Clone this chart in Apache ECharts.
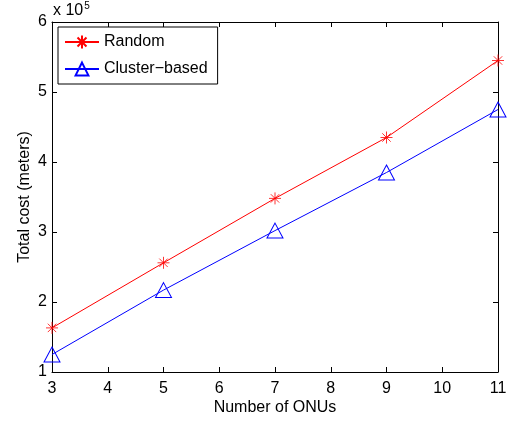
<!DOCTYPE html>
<html>
<head>
<meta charset="utf-8">
<script src="https://cdn.jsdelivr.net/npm/echarts@6/dist/echarts.min.js"></script>
<style>html,body{margin:0;padding:0;background:#fff;}#c{width:521px;height:425px;}</style>
</head>
<body>
<div id="c"></div>
<script>
var categories = [3, 5, 7, 9, 11];
var randomCost = [1.63, 2.56, 3.48, 4.35, 5.45];
var clusterCost = [1.25, 2.17, 3.02, 3.85, 4.75];
var xTicks = [3, 4, 5, 6, 7, 8, 9, 10, 11];
var yTicks = [1, 2, 3, 4, 5, 6];

var FONT = 'Liberation Sans, Arial, sans-serif';
var starPath = 'path://M0,-10L0,10M-10,0L10,0M-7,-7L7,7M-7,7L7,-7';

function pairs(xs, ys) { return xs.map(function (x, i) { return [x, ys[i]]; }); }

var chart = echarts.init(document.getElementById('c'), null, {renderer: 'canvas'});
var axisLine = {show: true, lineStyle: {color: '#000', width: 1}};
var tickIn = {show: true, inside: true, length: 5, lineStyle: {color: '#000'}};
chart.setOption({
  animation: false,
  backgroundColor: '#fff',
  grid: {left: 52, right: 23, top: 22, bottom: 53, containLabel: false},
  xAxis: [{
    type: 'value', min: 3, max: 11, interval: 1,
    axisLine: axisLine, axisTick: tickIn, splitLine: {show: false},
    axisLabel: {color: '#000', fontSize: 16, fontFamily: FONT, margin: 9},
    name: 'Number of ONUs', nameLocation: 'middle', nameGap: 28, nameMoveOverlap: false,
    nameTextStyle: {color: '#000', fontSize: 16, fontFamily: FONT}
  }, {
    type: 'value', min: 3, max: 11, interval: 1, position: 'top',
    axisLine: axisLine, axisTick: tickIn, axisLabel: {show: false}, splitLine: {show: false}
  }],
  yAxis: [{
    type: 'value', min: 1, max: 6, interval: 1,
    axisLine: axisLine, axisTick: tickIn, splitLine: {show: false},
    axisLabel: {color: '#000', fontSize: 16, fontFamily: FONT, margin: 5},
    name: 'Total cost (meters)', nameLocation: 'middle', nameGap: 19, nameMoveOverlap: false,
    nameTextStyle: {color: '#000', fontSize: 16, fontFamily: FONT}
  }, {
    type: 'value', min: 1, max: 6, interval: 1, position: 'right',
    axisLine: axisLine, axisTick: tickIn, axisLabel: {show: false}, splitLine: {show: false}
  }],
  legend: {
    orient: 'vertical', left: 58, top: 27,
    padding: [7, 10, 7, 6], itemGap: 11, itemWidth: 34, itemHeight: 16,
    borderColor: '#000', borderWidth: 1, borderRadius: 0, backgroundColor: '#fff',
    textStyle: {color: '#000', fontSize: 16, fontFamily: FONT},
    data: ['Random', 'Cluster\u2212based']
  },
  graphic: [{
    type: 'text', left: 53, top: 1,
    style: {
      text: 'x 10{s|5}', fill: '#000', font: '16px ' + FONT,
      rich: {s: {fontSize: 10, fontFamily: FONT, verticalAlign: 'top', padding: [0, 0, 10, 1], fill: '#000'}}
    }
  }],
  series: [{
    name: 'Random', type: 'line', data: pairs(categories, randomCost),
    symbol: starPath, symbolSize: 12, showAllSymbol: true,
    lineStyle: {color: '#ff0000', width: 1},
    itemStyle: {color: '#ff0000', borderColor: '#ff0000', borderWidth: 0.8}
  }, {
    name: 'Cluster\u2212based', type: 'line', data: pairs(categories, clusterCost),
    symbol: 'triangle', symbolSize: [16, 15], showAllSymbol: true,
    lineStyle: {color: '#0000ff', width: 1},
    itemStyle: {color: 'rgba(0,0,0,0)', borderColor: '#0000ff', borderWidth: 1}
  }]
});
</script>
</body>
</html>
